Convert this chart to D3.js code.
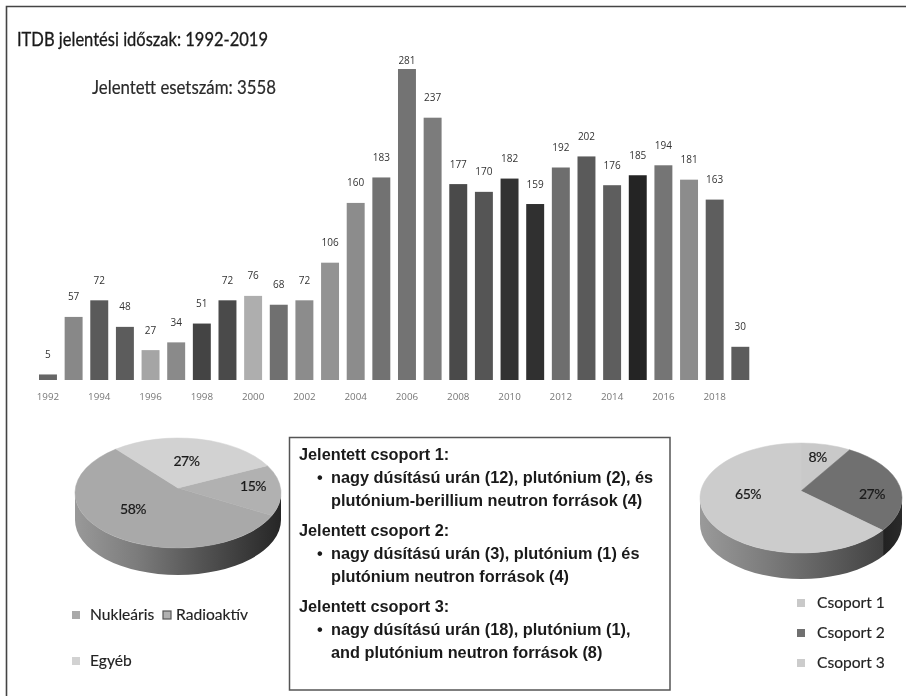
<!DOCTYPE html>
<html>
<head>
<meta charset="utf-8">
<script src="https://cdn.jsdelivr.net/npm/d3@7"></script>
<style>
  html, body { margin: 0; padding: 0; background: #fff; }
  svg { display: block; filter: blur(0.45px); }
</style>
</head>
<body>
<div id="frame"></div>
<script>
// data
const years = d3.range(1992, 2020);
const cases = [5, 57, 72, 48, 27, 34, 51, 72, 76, 68, 72, 106, 160, 183, 281, 237,
               177, 170, 182, 159, 192, 202, 176, 185, 194, 181, 163, 30];
const barGreys = ["#666", "#888", "#5a5a5a", "#5c5c5c", "#a5a5a5", "#8a8a8a", "#444", "#4a4a4a",
                  "#aeaeae", "#707070", "#8c8c8c", "#939393", "#8c8c8c", "#727272", "#737373", "#7c7c7c",
                  "#4a4a4a", "#555", "#333", "#303030", "#6e6e6e", "#5a5a5a", "#5e5e5e", "#242424",
                  "#757575", "#8c8c8c", "#5e5e5e", "#5c5c5c"];
const tickYears = years.filter(d => d % 2 === 0);

const typeNames = ["Nukleáris", "Radioaktív", "Egyéb"];
const typeShares = [58, 15, 27];
const typeColors = ["#a9a9a9", "#b1b1b1", "#d2d2d2"];

const groupNames = ["Csoport 1", "Csoport 2", "Csoport 3"];
const groupShares = [8, 27, 65];
const groupColors = ["#c9c9c9", "#707070", "#cccccc"];

const boxHeads = ["Jelentett csoport 1:", "Jelentett csoport 2:", "Jelentett csoport 3:"];
const boxLines = [
  ["nagy dúsítású urán (12), plutónium (2), és", "plutónium-berillium neutron források (4)"],
  ["nagy dúsítású urán (3), plutónium (1) és", "plutónium neutron források (4)"],
  ["nagy dúsítású urán (18), plutónium (1),", "and plutónium neutron források (8)"]
];

const width = 906, height = 696;
const svg = d3.select("#frame").append("svg")
  .attr("width", width)
  .attr("height", height);
const defs = svg.append("defs");

// frame, only the top and left edge show
svg.append("path")
  .attr("d", "M6.5,696V6.5H906")
  .attr("fill", "none")
  .attr("stroke", "#444")
  .attr("stroke-width", 1.6);

// headings
const headFont = "Lato, sans-serif";
svg.append("text")
  .attr("x", 17).attr("y", 46)
  .attr("font-family", headFont).attr("font-size", 18.5)
  .attr("textLength", 251).attr("lengthAdjust", "spacingAndGlyphs")
  .attr("fill", "#1a1a1a").attr("stroke", "#1a1a1a").attr("stroke-width", 0.3)
  .text("ITDB jelentési időszak: 1992-2019");
svg.append("text")
  .attr("x", 92).attr("y", 94)
  .attr("font-family", headFont).attr("font-size", 18.5)
  .attr("textLength", 184).attr("lengthAdjust", "spacingAndGlyphs")
  .attr("fill", "#2a2a2a").attr("stroke", "#2a2a2a").attr("stroke-width", 0.2)
  .text("Jelentett esetszám: 3558");

// bars
const x = d3.scaleBand()
  .domain(years)
  .range([39, 749.3])
  .paddingInner(0.3)
  .paddingOuter(0);
const y = d3.scaleLinear()
  .domain([0, 281])
  .range([380, 69]);

svg.append("g")
  .selectAll("rect")
  .data(years)
  .join("rect")
    .attr("x", d => x(d))
    .attr("y", (d, i) => y(cases[i]))
    .attr("width", x.bandwidth())
    .attr("height", (d, i) => y(0) - y(cases[i]))
    .attr("fill", (d, i) => barGreys[i]);

svg.append("g")
  .attr("font-family", "'Open Sans', sans-serif")
  .attr("font-size", 10)
  .attr("fill", "#333")
  .attr("text-anchor", "middle")
  .selectAll("text")
  .data(years)
  .join("text")
    .attr("x", d => x(d) + x.bandwidth() / 2)
    // the 2006 label sits close to its bar, the rest float about 20px above
    .attr("y", (d, i) => Math.max(y(cases[i]) - 20, 60))
    .attr("dy", "0.35em")
    .text((d, i) => cases[i]);

const axis = svg.append("g")
  .attr("transform", "translate(0,380)")
  .call(d3.axisBottom(x).tickValues(tickYears).tickSize(0).tickPadding(13));
axis.select(".domain").remove();
axis.selectAll("text")
  .attr("font-family", "'Open Sans', sans-serif")
  .attr("font-size", 9.8)
  .attr("fill", "#777");

// fake 3d pie: flat ellipse slices over an extruded wall
function pie3d(opt) {
  const {cx, cy, rx, ry, depth, apexY, shares, colors, start, end, stops, id, labels} = opt;
  const g = svg.append("g");
  const arcs = d3.pie().sort(null).startAngle(start).endAngle(end)(shares);
  const pt = a => [cx + rx * Math.sin(a), cy - ry * Math.cos(a)];

  const grad = defs.append("linearGradient").attr("id", id);
  grad.selectAll("stop")
    .data(stops)
    .join("stop")
      .attr("offset", d => d[0])
      .attr("stop-color", d => d[1]);

  g.append("path")
    .attr("d", `M${cx - rx},${cy}A${rx},${ry} 0 0 0 ${cx + rx},${cy}` +
               `V${cy + depth}A${rx},${ry} 0 0 1 ${cx - rx},${cy + depth}Z`)
    .attr("fill", `url(#${id})`);

  g.selectAll("path.slice")
    .data(arcs)
    .join("path")
      .attr("class", "slice")
      .attr("d", d => {
        const a0 = Math.min(d.startAngle, d.endAngle), a1 = Math.max(d.startAngle, d.endAngle);
        const p0 = pt(a0), p1 = pt(a1);
        return `M${cx},${apexY}L${p0}A${rx},${ry} 0 ${a1 - a0 > Math.PI ? 1 : 0} 1 ${p1}Z`;
      })
      .attr("fill", (d, i) => colors[i])
      .attr("stroke", (d, i) => colors[i])
      .attr("stroke-width", 0.5);

  g.selectAll("text")
    .data(arcs)
    .join("text")
      .attr("x", (d, i) => pt((d.startAngle + d.endAngle) / 2)[0] * 0.7 + cx * 0.3 + labels[i][0])
      .attr("y", (d, i) => pt((d.startAngle + d.endAngle) / 2)[1] * 0.7 + cy * 0.3 + labels[i][1])
      .attr("dy", "0.35em")
      .attr("text-anchor", "middle")
      .attr("font-family", headFont)
      .attr("font-size", 14)
      .attr("letter-spacing", -0.5)
      .attr("fill", "#1a1a1a")
      .attr("stroke", "#1a1a1a")
      .attr("stroke-width", 0.2)
      .text(d => d.value + "%");
}

const deg = Math.PI / 180;
pie3d({
  id: "wallLeft", cx: 178, cy: 493, rx: 103, ry: 55, depth: 27, apexY: 488,
  shares: typeShares, colors: typeColors,
  start: 323 * deg, end: -37 * deg,   // runs counter-clockwise
  stops: [[0, "#999"], [0.3, "#7c7c7c"], [0.6, "#555"], [1, "#262626"]],
  labels: [[0, -14], [3, -5], [-6, 6]]
});
pie3d({
  id: "wallRight", cx: 801, cy: 498, rx: 101, ry: 55, depth: 26, apexY: 491,
  shares: groupShares, colors: groupColors,
  start: 0, end: 360 * deg,
  stops: [[0, "#9a9a9a"], [0.35, "#7a7a7a"], [0.905, "#424242"], [0.91, "#222"], [1, "#2a2a2a"]],
  labels: [[-1, -4], [2, 4], [10, -21]]
});

// legends
function legend(names, colors, positions, edges) {
  const g = svg.append("g");
  g.selectAll("rect")
    .data(names)
    .join("rect")
      .attr("x", (d, i) => positions[i][0])
      .attr("y", (d, i) => positions[i][1] - 4)
      .attr("width", 8).attr("height", 8)
      .attr("fill", (d, i) => colors[i])
      .attr("stroke", (d, i) => edges[i])
      .attr("stroke-width", 1.2);
  g.selectAll("text")
    .data(names)
    .join("text")
      .attr("x", (d, i) => positions[i][2])
      .attr("y", (d, i) => positions[i][1])
      .attr("dy", "0.35em")
      .attr("font-family", headFont)
      .attr("font-size", 15.6)
      .attr("fill", "#222")
      .attr("stroke", "#222")
      .attr("stroke-width", 0.15)
      .text(d => d);
}
legend(typeNames, typeColors, [[72, 615, 90], [163, 615, 176], [72, 661, 90]], ["none", "#555", "none"]);
legend(groupNames, groupColors, [[797, 603, 817], [797, 633, 817], [797, 663, 817]], ["none", "none", "none"]);

// text box
svg.append("rect")
  .attr("x", 289.5).attr("y", 437.5)
  .attr("width", 380.5).attr("height", 252.5)
  .attr("fill", "#fff")
  .attr("stroke", "#555")
  .attr("stroke-width", 1.5);

const box = svg.append("g")
  .attr("font-family", "'Liberation Sans', Arial, sans-serif")
  .attr("font-weight", "bold")
  .attr("font-size", 16.3)
  .attr("fill", "#1a1a1a");
const blockTops = [460, 536, 612];
boxHeads.forEach((head, i) => {
  box.append("text").attr("x", 299).attr("y", blockTops[i]).text(head);
  box.append("text").attr("x", 317).attr("y", blockTops[i] + 23).text("•");
  boxLines[i].forEach((line, j) => {
    box.append("text").attr("x", 331).attr("y", blockTops[i] + 23 + j * 22.5).text(line);
  });
});
</script>
</body>
</html>
